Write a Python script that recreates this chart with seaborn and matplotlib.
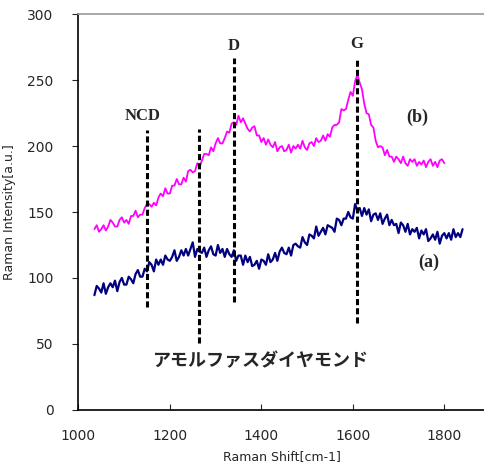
import seaborn as sns
import pandas as pd
import numpy as np
import matplotlib.pyplot as plt

# spectrum (b) - magenta, sampled every 5 cm-1 from 1035
start_b = 1035
intensity_b = [
    137, 140, 135, 137, 140, 136, 139, 144,
    142, 139, 139, 144, 146, 142, 144, 141, 147,
    147, 151, 146, 148, 148, 153, 156,
    156, 154, 157, 155, 161, 164, 162, 168,
    164, 164, 170, 170, 175, 171, 171, 176, 173,
    181, 182, 180, 181, 187, 184,
    189, 194, 194, 193, 199, 196, 202,
    206, 202, 202, 206,
    211, 210, 217, 218, 216, 223,
    218, 221, 217, 213, 211,
    214, 215, 208, 208, 203, 206, 201,
    205, 201, 199, 203, 196, 199,
    200, 196, 197, 201, 195, 200, 198,
    201, 198, 204, 199, 197, 202,
    203, 200, 206, 203, 204, 208, 204,
    209, 207, 214, 216,
    216, 218, 228, 227, 228,
    235, 241, 238, 249, 254, 248,
    243, 232, 225, 224, 216, 214, 204,
    199, 200, 199, 193,
    197, 192, 192, 188, 192, 190, 187, 192, 187, 185, 190, 188, 190,
    185, 188, 186, 189, 184, 188, 190, 185, 188, 184, 189, 190, 187,
]

# spectrum (a) - navy, sampled every 5 cm-1 from 1035
start_a = 1035
intensity_a = [
    87, 94, 92, 89, 96, 88, 93, 96, 93, 98,
    90, 97, 100, 95, 95, 101, 99, 96, 103, 106,
    101, 101, 107, 105, 112, 110, 105, 114, 110, 114,
    110, 117, 114, 113, 116, 121, 113, 116, 121, 117,
    122, 117, 122, 127, 116, 122, 120, 119, 123, 116,
    121, 124, 118, 117, 125, 119, 122, 116, 122, 118,
    116, 121, 113, 117, 117, 110, 117, 112, 116, 109,
    110, 113, 107, 114, 113, 110, 118, 112, 114, 119,
    113, 120, 123, 119, 118, 123, 117, 125, 126, 124,
    123, 131, 127, 125, 133, 132, 130, 139, 132, 135,
    138, 133, 140, 139, 138, 135, 145, 144, 140, 145,
    145, 150, 146, 145, 156, 151, 153, 147, 153, 148,
    152, 143, 148, 149, 144, 149, 141, 145, 148, 140,
    144, 140, 141, 134, 142, 140, 135, 141, 133, 137,
    135, 138, 130, 136, 133, 137, 128, 130, 133, 129,
    135, 126, 132, 134, 130, 134, 129, 137, 131, 134,
    131, 137,
]

# marker lines: (position, top, bottom)
marker_pos = [1150, 1263, 1340, 1609]
marker_top = [212, 213, 267, 265]
marker_bottom = [78, 51, 82, 66]

df_b = pd.DataFrame({"shift": start_b + 5 * np.arange(len(intensity_b)), "y": intensity_b})
df_a = pd.DataFrame({"shift": start_a + 5 * np.arange(len(intensity_a)), "y": intensity_a})

sns.set_style("white")
plt.rcParams["font.family"] = ["DejaVu Sans", "Noto Sans CJK JP"]

fig = plt.figure(figsize=(4.84, 4.68), dpi=100)
ax = fig.add_axes([0.162, 0.124, 0.841, 0.846])

sns.lineplot(data=df_b, x="shift", y="y", color="#ff00ff", lw=1.3, ax=ax,
             estimator=None, sort=False)
sns.lineplot(data=df_a, x="shift", y="y", color="#000080", lw=1.6, ax=ax,
             estimator=None, sort=False)

for xp, t, b in zip(marker_pos, marker_top, marker_bottom):
    ax.plot([xp, xp], [b, t], color="black", lw=2.2, linestyle=(0, (2, 1)))

serif = ["Liberation Serif", "DejaVu Serif"]
ax.text(1140, 223, "NCD", ha="center", va="center", fontsize=12,
        fontweight="bold", family=serif)
ax.text(1340, 276, "D", ha="center", va="center", fontsize=12,
        fontweight="bold", family=serif)
ax.text(1609, 277, "G", ha="center", va="center", fontsize=12,
        fontweight="bold", family=serif)
ax.text(1740, 222, "(b)", ha="center", va="center", fontsize=13,
        fontweight="bold", family=serif,
        bbox=dict(facecolor="white", edgecolor="none", pad=6))
ax.text(1765, 112, "(a)", ha="center", va="center", fontsize=13,
        fontweight="bold", family=serif,
        bbox=dict(facecolor="white", edgecolor="none", pad=6))
ax.text(1400, 37, "アモルファスダイヤモンド", ha="center", va="center",
        fontsize=13, fontweight="bold",
        family=["Noto Sans CJK JP", "DejaVu Sans"])

ax.set_xlim(1000, 1890)
ax.set_ylim(0, 300)
ax.set_xticks([1000, 1200, 1400, 1600, 1800])
ax.set_yticks([0, 50, 100, 150, 200, 250, 300])
ax.tick_params(axis="x", direction="in", length=4, pad=14, labelsize=10)
ax.tick_params(axis="y", direction="out", length=4, pad=14, labelsize=10)
ax.tick_params(left=True, bottom=True)

ax.set_xlabel("Raman Shift[cm-1]", fontsize=9, labelpad=5)
ax.set_ylabel("Raman Intensity[a.u.]", fontsize=9, labelpad=8)

for s in ["left", "bottom"]:
    ax.spines[s].set_color("black")
    ax.spines[s].set_linewidth(1.2)
ax.spines["top"].set_color("#999999")
ax.spines["top"].set_linewidth(1.2)
ax.spines["right"].set_visible(False)

fig.savefig("out.png", dpi=100)
